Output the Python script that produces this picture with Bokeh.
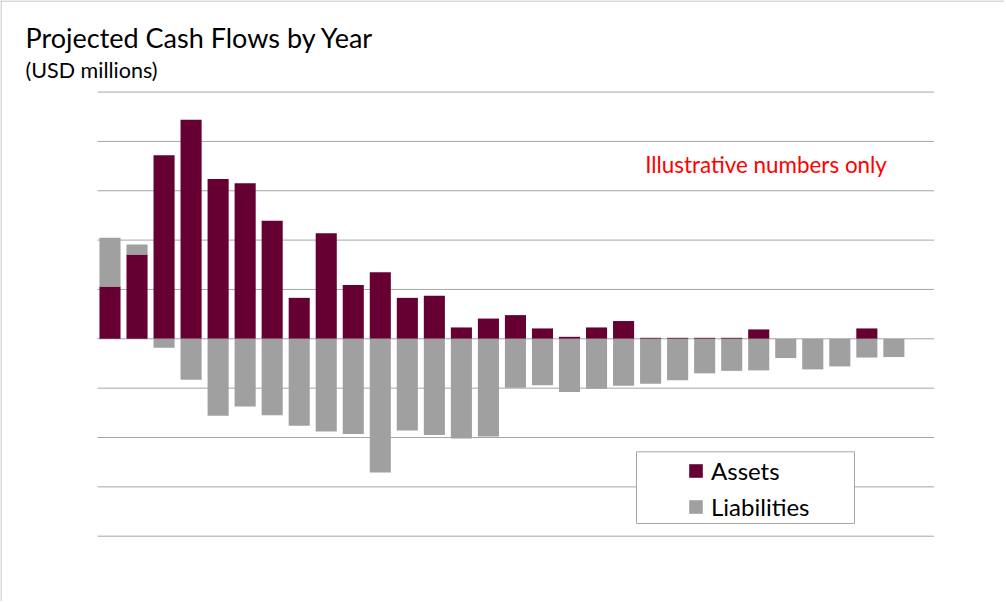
import numpy as np
from bokeh.plotting import figure
from bokeh.models import (Range1d, Label, Legend, LegendItem, BoxAnnotation,
                          ColumnDataSource, Span)
from bokeh.embed import file_html
from bokeh.resources import INLINE

# ---------------- data ----------------
years = list(range(1, 31))
assets = [1.06, 1.71, 3.72, 4.44, 3.24, 3.15, 2.39, 0.83, 2.14, 1.09,
          1.35, 0.83, 0.87, 0.23, 0.41, 0.48, 0.21, 0.04, 0.23, 0.36,
          0.02, 0.02, 0.02, 0.02, 0.19, 0.0, 0.0, 0.0, 0.21, 0.0]
liabilities = [0.99, 0.20, -0.18, -0.83, -1.56, -1.37, -1.55, -1.76, -1.88, -1.93,
               -2.71, -1.86, -1.95, -2.02, -1.98, -0.99, -0.94, -1.08, -1.01, -0.95,
               -0.91, -0.84, -0.70, -0.65, -0.64, -0.39, -0.62, -0.56, -0.38, -0.37]
grid_values = [-4, -3, -2, -1, 0, 1, 2, 3, 4, 5]
series_names = ["Assets", "Liabilities"]
title_text = "Projected Cash Flows by Year"
subtitle_text = "(USD millions)"
note_text = "Illustrative numbers only"

# ---------------- style / layout ----------------
COL_ASSETS = "#660033"
COL_LIAB = "#A0A0A0"
COL_GRID = "#a6a6a6"
COL_BORDER = "#b4b4b4"
FONT = "Lato"
W, H = 1004, 601           # canvas
OX, OY = 1, 1              # page position of canvas origin
PX_PER_X = 27.03           # px per category
PX_PER_Y = 49.35           # px per unit
X0_PX = 110.5              # page px of year 1 centre
Y0_PX = 339.3              # page px of zero line

x_lo = 1 - (X0_PX - OX) / PX_PER_X
x_hi = x_lo + W / PX_PER_X
y_hi = (Y0_PX - OY) / PX_PER_Y
y_lo = y_hi - H / PX_PER_Y


def px2x(px):
    return x_lo + (px - OX) / PX_PER_X


def px2y(py):
    return y_hi - (py - OY) / PX_PER_Y


a = np.array(assets)
l = np.array(liabilities)
liab_bottom = np.where(l > 0, a, 0.0)
liab_top = liab_bottom + l
src = ColumnDataSource(dict(year=years, assets=assets,
                            liab_bottom=liab_bottom, liab_top=liab_top))

p = figure(width=W, height=H, x_range=Range1d(x_lo, x_hi), y_range=Range1d(y_lo, y_hi),
           output_backend="svg", toolbar_location=None, title=None,
           x_axis_location=None, y_axis_location=None,
           min_border=0)
p.outline_line_color = None
p.background_fill_color = "white"
p.border_fill_color = "white"
p.xgrid.visible = False
p.ygrid.visible = False

# slide border (top and left edges)
p.add_layout(Span(location=px2y(1.5), dimension="width",
                  line_color=COL_BORDER, line_width=1))
p.add_layout(Span(location=px2x(1.5), dimension="height",
                  line_color=COL_BORDER, line_width=1))

# horizontal gridlines, spanning the plot area only
gx0, gx1 = px2x(98), px2x(934.5)
p.segment(x0=[gx0] * len(grid_values), x1=[gx1] * len(grid_values),
          y0=grid_values, y1=grid_values, line_color=COL_GRID, line_width=1)

r1 = p.vbar(x="year", width=0.78, bottom=0, top="assets", source=src,
            fill_color=COL_ASSETS, line_color=None)
r2 = p.vbar(x="year", width=0.78, bottom="liab_bottom", top="liab_top", source=src,
            fill_color=COL_LIAB, line_color=None)

# legend frame
box = BoxAnnotation(left=px2x(637), right=px2x(855), top=px2y(452.3), bottom=px2y(524),
                    fill_color="white", fill_alpha=1.0,
                    line_color=COL_GRID, line_alpha=1.0, line_width=1)
p.add_layout(box)

legend = Legend(items=[LegendItem(label=series_names[0], renderers=[r1]),
                       LegendItem(label=series_names[1], renderers=[r2])],
                location=(687, 80), orientation="vertical",
                border_line_color=None, background_fill_alpha=0.0,
                glyph_width=17, glyph_height=17, label_standoff=7,
                label_text_font=FONT, label_text_font_size="24px",
                label_text_color="#000000", label_height=22,
                spacing=7, padding=0, margin=0)
p.add_layout(legend)

p.add_layout(Label(x=px2x(26), y=px2y(37.7), text=title_text, text_font=FONT,
                   text_font_size="27px", text_color="#000000",
                   text_baseline="alphabetic"))
p.add_layout(Label(x=px2x(26), y=px2y(70), text=subtitle_text, text_font=FONT,
                   text_font_size="21.5px", text_color="#000000",
                   text_baseline="alphabetic"))
p.add_layout(Label(x=px2x(645.7), y=px2y(164.7), text=note_text, text_font=FONT,
                   text_font_size="22.4px", text_color="#FF0000",
                   text_baseline="alphabetic"))

open("out.html", "w").write(file_html(p, INLINE))
